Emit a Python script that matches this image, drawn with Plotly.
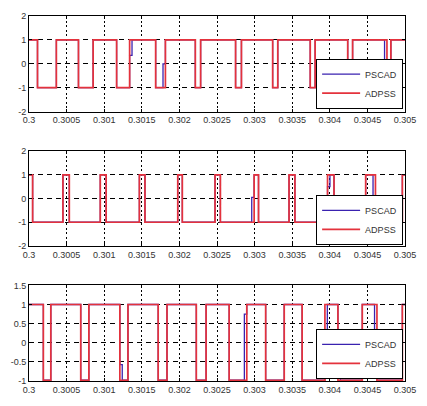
import plotly.graph_objects as go

T_START, T_END = 0.3, 0.305

x_tickvals = [0.3, 0.3005, 0.301, 0.3015, 0.302, 0.3025, 0.303, 0.3035, 0.304, 0.3045, 0.305]
x_ticktext = ["0.3", "0.3005", "0.301", "0.3015", "0.302", "0.3025", "0.303",
              "0.3035", "0.304", "0.3045", "0.305"]

y12_tickvals = [-2, -1, 0, 1, 2]
y12_ticktext = ["-2", "-1", "0", "1", "2"]
y3_tickvals = [-1, -0.5, 0, 0.5, 1, 1.5]
y3_ticktext = ["-1", "-0.5", "0", "0.5", "1", "1.5"]

# ---- panel 1 (switching times in s, level after each switch) ----
adpss1_v0 = 1
adpss1_t = [0.300113, 0.300364, 0.300658, 0.300853, 0.301165, 0.301338, 0.301684, 0.301814,
            0.302212, 0.302282, 0.302747, 0.302825, 0.303240, 0.303308, 0.303740, 0.303805,
            0.304238, 0.304303, 0.304760, 0.304812]
adpss1_v = [-1, 1, -1, 1, -1, 1, -1, 1, -1, 1, -1, 1, -1, 1, -1, 1, -1, 1, -1, 1]

pscad1_v0 = 1
pscad1_t = [0.300113, 0.300364, 0.300658, 0.300853, 0.301165, 0.301338, 0.301370, 0.301684,
            0.301782, 0.301814, 0.302212, 0.302282, 0.302747, 0.302825, 0.303240, 0.303308,
            0.303740, 0.303805, 0.304238, 0.304303, 0.304728, 0.304760, 0.304812]
pscad1_v = [-1, 1, -1, 1, -1, 0.35, 1, -1, 0, 1, -1, 1, -1, 1, -1, 1, -1, 1, -1, 1, 0, -1, 1]

# ---- panel 2 ----
adpss2_v0 = 1
adpss2_t = [0.300048, 0.300451, 0.300536, 0.300948, 0.301026, 0.301468, 0.301542, 0.301978,
            0.302039, 0.302474, 0.302545, 0.302994, 0.303052, 0.303458, 0.303536, 0.303970,
            0.304056, 0.304477, 0.304607, 0.304965]
adpss2_v = [-1, 1, -1, 1, -1, 1, -1, 1, -1, 1, -1, 1, -1, 1, -1, 1, -1, 1, -1, 1]

pscad2_v0 = 1
pscad2_t = [0.300048, 0.300451, 0.300536, 0.300948, 0.301026, 0.301468, 0.301542, 0.301978,
            0.302039, 0.302474, 0.302545, 0.302962, 0.302994, 0.303052, 0.303458, 0.303536,
            0.303970, 0.304002, 0.304056, 0.304477, 0.304575, 0.304607, 0.304965]
pscad2_v = [-1, 1, -1, 1, -1, 1, -1, 1, -1, 1, -1, 0.05, 1, -1, 1, -1, 0.5, 1, -1, 1, -0.3, -1, 1]

# ---- panel 3 ----
adpss3_v0 = 1
adpss3_t = [0.300191, 0.300290, 0.300688, 0.300796, 0.301208, 0.301316, 0.301718, 0.301835,
            0.302225, 0.302355, 0.302662, 0.302896, 0.303147, 0.303394, 0.303632, 0.303935,
            0.304108, 0.304432, 0.304627, 0.304965]
adpss3_v = [-0.98, 1, -0.98, 1, -0.98, 1, -0.98, 1, -0.98, 1, -0.98, 1, -0.98, 1, -0.98, 1,
            -0.98, 1, -0.98, 1]

pscad3_v0 = 1
pscad3_t = [0.300191, 0.300290, 0.300688, 0.300796, 0.301208, 0.301240, 0.301316, 0.301718,
            0.301835, 0.302225, 0.302355, 0.302662, 0.302864, 0.302896, 0.303147, 0.303394,
            0.303632, 0.303935, 0.303967, 0.304108, 0.304140, 0.304432, 0.304595, 0.304627,
            0.304965]
pscad3_v = [-0.98, 1, -0.98, 1, -0.57, -0.98, 1, -0.98, 1, -0.98, 1, -0.98, 0.75, 1, -0.98, 1,
            -0.98, 0.3, 1, 0.3, -0.98, 1, 0.1, -0.98, 1]

BLUE = "#3a22b0"
RED = "#e4323c"
FONT = "Liberation Sans, Arial, sans-serif"


def step_xy(t, v, v0):
    return [T_START] + list(t) + [T_END], [v0] + list(v) + [v[-1]]


fig = go.Figure()
panels = [
    (pscad1_t, pscad1_v, pscad1_v0, adpss1_t, adpss1_v, adpss1_v0, "x", "y", "legend"),
    (pscad2_t, pscad2_v, pscad2_v0, adpss2_t, adpss2_v, adpss2_v0, "x2", "y2", "legend2"),
    (pscad3_t, pscad3_v, pscad3_v0, adpss3_t, adpss3_v, adpss3_v0, "x3", "y3", "legend3"),
]
for pt, pv, pv0, at, av, av0, xa, ya, lg in panels:
    px, py = step_xy(pt, pv, pv0)
    ax, ay = step_xy(at, av, av0)
    fig.add_trace(go.Scatter(x=px, y=py, mode="lines", line=dict(color=BLUE, width=1.3, shape="hv"),
                             name="PSCAD", xaxis=xa, yaxis=ya, legend=lg))
    fig.add_trace(go.Scatter(x=ax, y=ay, mode="lines", line=dict(color=RED, width=1.7, shape="hv"),
                             name="ADPSS", xaxis=xa, yaxis=ya, legend=lg))

tickfont = dict(size=9, color="#333333", family=FONT)


def xaxis(anchor):
    return dict(range=[T_START, T_END], tickvals=x_tickvals, ticktext=x_ticktext, anchor=anchor,
                showgrid=True, gridcolor="black", gridwidth=1.2, griddash="2px,2.5px",
                showline=True, linecolor="black", linewidth=1, mirror="ticks",
                ticks="inside", ticklen=3, tickcolor="black", tickfont=tickfont, zeroline=False)


def yaxis(anchor, rng, tv, tt, dom):
    return dict(range=rng, tickvals=tv, ticktext=tt, anchor=anchor, domain=dom,
                showgrid=True, gridcolor="black", gridwidth=1.2, griddash="5px,4px",
                showline=True, linecolor="black", linewidth=1, mirror="ticks",
                ticks="inside", ticklen=3, tickcolor="black", tickfont=tickfont, zeroline=False)


legend_style = dict(xanchor="right", yanchor="bottom", x=0.995, bgcolor="white",
                    bordercolor="black", borderwidth=1, tracegroupgap=0, itemwidth=38,
                    font=dict(size=9, color="#333333", family=FONT))

fig.update_layout(
    width=427, height=406, autosize=False,
    margin=dict(l=27, r=15, t=11, b=17),
    paper_bgcolor="white", plot_bgcolor="white",
    xaxis=xaxis("y"), xaxis2=xaxis("y2"), xaxis3=xaxis("y3"),
    yaxis=yaxis("x", [-2, 2], y12_tickvals, y12_ticktext, [0.738, 1.0]),
    yaxis2=yaxis("x2", [-2, 2], y12_tickvals, y12_ticktext, [0.370, 0.630]),
    yaxis3=yaxis("x3", [-1, 1.5], y3_tickvals, y3_ticktext, [0.0, 0.262]),
    legend=dict(legend_style, y=0.746),
    legend2=dict(legend_style, y=0.373),
    legend3=dict(legend_style, y=0.006),
    showlegend=True,
)

fig.write_html("out.html", config={"displayModeBar": False},
               post_script="document.body.style.margin='0';")
